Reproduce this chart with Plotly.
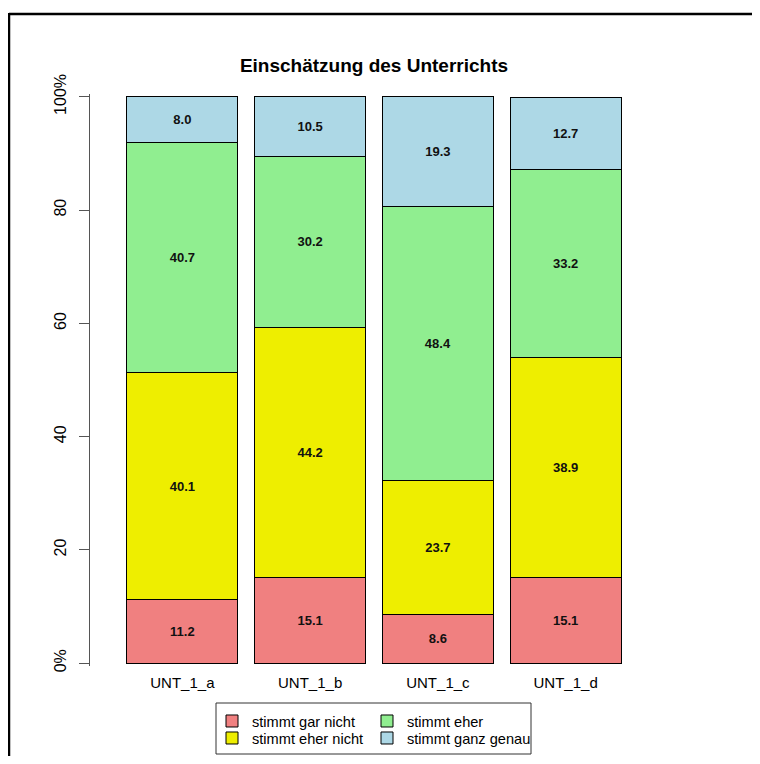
import plotly.graph_objects as go

categories = ["UNT_1_a", "UNT_1_b", "UNT_1_c", "UNT_1_d"]
series_names = ["stimmt gar nicht", "stimmt eher nicht", "stimmt eher", "stimmt ganz genau"]
gar_nicht = [11.2, 15.1, 8.6, 15.1]
eher_nicht = [40.1, 44.2, 23.7, 38.9]
eher = [40.7, 30.2, 48.4, 33.2]
ganz_genau = [8.0, 10.5, 19.3, 12.7]
series_values = [gar_nicht, eher_nicht, eher, ganz_genau]
colors = ["#F08080", "#EEEE00", "#90EE90", "#ADD8E6"]
ytick_vals = [0, 20, 40, 60, 80, 100]
ytick_text = ["0%", "20", "40", "60", "80", "100%"]

FONT = "Liberation Sans, Arial, sans-serif"
# page has an 8px body margin; figure sized to fit the 760x764 window without scrollbars
W, H = 744, 748
L, R, T, B = 82, 94, 86, 90
pw, ph = W - L - R, H - T - B

xpos = list(range(len(categories)))
legend_ids = ["legend", "legend3", "legend2", "legend4"]

fig = go.Figure()
for name, vals, col, lid in zip(series_names, series_values, colors, legend_ids):
    fig.add_trace(go.Bar(
        x=xpos, y=vals, name=name, width=0.867, legend=lid,
        marker=dict(color=col, line=dict(color="#000000", width=1)),
        texttemplate="<b>%{y:.1f}</b>", textposition="inside",
        insidetextanchor="middle", textangle=0,
        textfont=dict(family=FONT, size=13, color="#111111"),
    ))

def px_x(p):
    return (p - L) / pw

def px_y(p):
    return (H - B - p) / ph

# legend grid (figure px): columns by symbol centre, rows by centre
col_sym = [226, 381]
row_y = [713, 730]
leg_pos = {"legend": (0, 0), "legend2": (1, 0), "legend3": (0, 1), "legend4": (1, 1)}
legend_layouts = {}
for lid, (c, r) in leg_pos.items():
    legend_layouts[lid] = dict(
        x=px_x(col_sym[c] - 22), y=px_y(row_y[r]), xanchor="left", yanchor="middle",
        bgcolor="rgba(0,0,0,0)", borderwidth=0,
        font=dict(family=FONT, size=14.6, color="#000000"),
        itemclick=False, itemdoubleclick=False,
    )

frame = dict(color="#000000", width=2.5)
fig.update_layout(
    width=W, height=H,
    margin=dict(l=L, r=R, t=T, b=B, autoexpand=False),
    paper_bgcolor="white", plot_bgcolor="white",
    barmode="stack",
    font=dict(family=FONT, color="#000000"),
    title=dict(text="<b>Einschätzung des Unterrichts</b>", x=px_x(366), xref="paper",
               xanchor="center", y=1 - 57 / H, yanchor="middle",
               font=dict(family=FONT, size=19, color="#000000")),
    xaxis=dict(range=[-0.723, 3.723], tickmode="array", tickvals=xpos, ticktext=categories,
               showgrid=False, zeroline=False, showline=False, ticks="",
               tickfont=dict(family=FONT, size=15, color="#000000"), ticklabelstandoff=6),
    yaxis=dict(range=[-0.5, 100.5], tickmode="array", tickvals=ytick_vals, ticktext=ytick_text,
               showgrid=False, zeroline=False, showline=True, linecolor="#555555", linewidth=1,
               ticks="outside", ticklen=10, tickcolor="#555555", tickwidth=1,
               tickangle=-90, ticklabelstandoff=7,
               tickfont=dict(family=FONT, size=16, color="#000000")),
    showlegend=True,
    **legend_layouts,
    shapes=[
        dict(type="line", xref="paper", yref="paper",
             x0=px_x(1), x1=px_x(W), y0=px_y(6), y1=px_y(6), line=frame, layer="above"),
        dict(type="line", xref="paper", yref="paper",
             x0=px_x(1), x1=px_x(1), y0=px_y(5), y1=px_y(H), line=frame, layer="above"),
        dict(type="rect", xref="paper", yref="paper",
             x0=px_x(208), x1=px_x(523), y0=px_y(695), y1=px_y(746),
             line=dict(color="#333333", width=1), fillcolor="rgba(0,0,0,0)", layer="above"),
    ],
)

fig.write_html("out.html")
